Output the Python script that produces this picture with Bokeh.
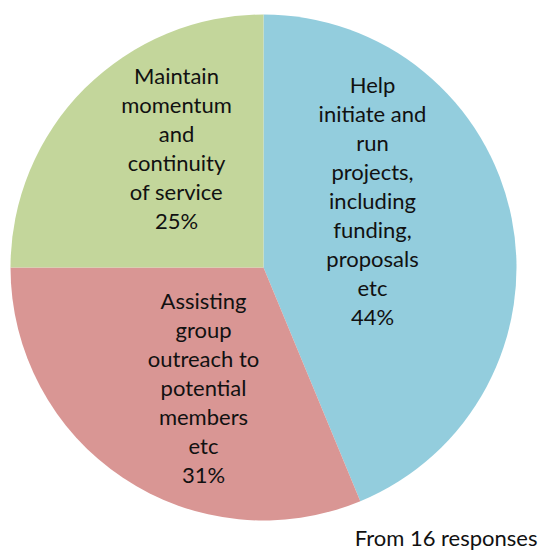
import math
from bokeh.plotting import figure
from bokeh.models import Range1d
from bokeh.core.properties import value
from bokeh.embed import file_html
from bokeh.resources import INLINE

# ---- data ----
categories = [
    "Help initiate and run projects, including funding, proposals etc",
    "Assisting group outreach to potential members etc",
    "Maintain momentum and continuity of service",
]
label_lines = [
    ["Help", "initiate and", "run", "projects,", "including", "funding,", "proposals", "etc"],
    ["Assisting", "group", "outreach to", "potential", "members", "etc"],
    ["Maintain", "momentum", "and", "continuity", "of service"],
]
responses = [7, 5, 4]
colors = ["#93CDDD", "#D99694", "#C3D69B"]
footnote = "From 16 responses"

# ---- layout (picture pixel coordinates) ----
FW, FH = 539, 550
CX, CY, R = 263, 267, 253
label_offsets = [(109, -67), (-60, 120), (-87, -120)]  # label block centre rel. to pie centre
LINE_H = 29
FONT = "Lato"

p = figure(width=FW, height=FH, output_backend="svg", toolbar_location=None,
           x_range=Range1d(0, FW), y_range=Range1d(0, FH), min_border=0)
p.axis.visible = False
p.grid.visible = False
p.outline_line_color = None
p.background_fill_color = "white"
p.border_fill_color = "white"

def Y(y):
    return FH - y

total = sum(responses)
start = 90.0
for i, v in enumerate(responses):
    sweep = v / total * 360.0
    end = start - sweep
    p.wedge(x=CX, y=Y(CY), radius=R, start_angle=math.radians(end), end_angle=math.radians(start),
            fill_color=colors[i], line_color=None)
    start = end

for i, v in enumerate(responses):
    pct = f"{round(v / total * 100)}%"
    lines = label_lines[i] + [pct]
    n = len(lines)
    lx = CX + label_offsets[i][0]
    ly = CY + label_offsets[i][1]
    ys = [Y(ly + (k - (n - 1) / 2) * LINE_H) for k in range(n)]
    p.text(x=[lx] * n, y=ys, text=lines, text_align="center", text_baseline="middle",
           text_font=value(FONT), text_font_size="22px", text_color="#111111")

p.text(x=[FW - 2], y=[Y(537)], text=[footnote], text_align="right", text_baseline="middle",
       text_font=value(FONT), text_font_size="22px", text_color="#111111")

open("out.html", "w").write(file_html(p, INLINE))
